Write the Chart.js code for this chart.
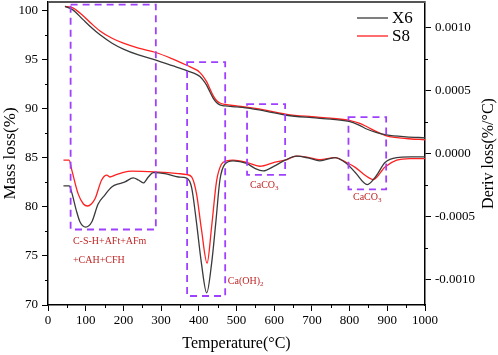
<!DOCTYPE html>
<html>
<head>
<meta charset="utf-8">
<script src="https://cdn.jsdelivr.net/npm/chart.js@4/dist/chart.umd.min.js"></script>
<style>
  html, body { margin: 0; padding: 0; background: #fff; }
  #wrap { width: 498px; height: 355px; position: relative; }
</style>
</head>
<body>
<div id="wrap"><canvas id="chart"></canvas></div>
<script>
// TG / DTG curves of samples X6 and S8

const tgTemp = [45, 66, 93, 115, 138, 170, 200, 240, 286, 330, 368, 395, 403, 410, 421, 430, 438, 447, 456, 470, 500, 536, 580, 633, 700, 750, 801, 825, 845, 870, 898, 950, 1000];
const tgX6 = [100.45, 100.1, 99.1, 98.3, 97.55, 96.7, 96.1, 95.5, 94.97, 94.4, 93.9, 93.5, 93.3, 93.0, 92.4, 91.7, 91.1, 90.65, 90.4, 90.3, 90.2, 90.05, 89.75, 89.35, 89.1, 88.95, 88.7, 88.35, 87.95, 87.6, 87.35, 87.15, 87.05];
const tgS8 = [100.45, 100.3, 99.5, 98.7, 97.95, 97.2, 96.7, 96.2, 95.75, 95.1, 94.45, 93.95, 93.7, 93.4, 92.75, 92.0, 91.35, 90.85, 90.6, 90.45, 90.3, 90.12, 89.85, 89.45, 89.2, 89.05, 88.8, 88.55, 88.2, 87.7, 87.25, 86.98, 86.85];

const dtgTempX6 = [41, 56, 63, 75, 85, 100, 116, 133, 150, 169, 190, 204, 226, 240, 253, 266, 279, 310, 346, 368, 381, 394, 407, 421, 434, 445, 456, 469, 491, 527, 550, 571, 600, 629, 659, 690, 721, 761, 792, 815, 847, 870, 894, 925, 960, 1000];
const dtgX6 = [-0.000257, -0.000257, -0.00031, -0.00045, -0.000543, -0.000583, -0.000543, -0.0004, -0.000331, -0.000265, -0.000238, -0.000225, -0.000193, -0.00021, -0.000233, -0.000186, -0.000151, -0.000159, -0.000186, -0.000195, -0.00027, -0.00055, -0.00087, -0.001104, -0.00087, -0.00055, -0.00021, -0.000085, -0.000058, -0.000079, -0.00012, -0.000138, -0.0001, -0.000053, -0.000021, -0.000035, -0.000058, -0.000032, -0.000079, -0.00015, -0.000246, -0.00018, -0.000071, -0.000032, -0.000027, -0.000027];

const dtgTempS8 = [41, 56, 63, 80, 94, 105, 115, 125, 142, 156, 164, 178, 200, 222, 284, 346, 368, 381, 394, 407, 422, 434, 447, 460, 474, 491, 527, 562, 600, 629, 659, 690, 721, 761, 792, 815, 840, 863, 894, 925, 960, 1000];
const dtgS8 = [-0.000053, -0.000053, -0.00013, -0.00032, -0.0004, -0.000416, -0.0004, -0.000357, -0.000212, -0.000172, -0.000186, -0.000172, -0.00015, -0.00014, -0.000146, -0.000159, -0.000167, -0.000186, -0.00032, -0.0006, -0.000868, -0.00058, -0.00022, -0.000085, -0.000058, -0.000053, -0.000071, -0.000101, -0.00007, -0.000053, -0.000021, -0.00003, -0.000048, -0.000032, -0.000071, -0.00011, -0.00017, -0.000206, -0.000106, -0.000053, -0.00004, -0.00004];

const seriesNames = ['X6', 'S8'];

// dashed regions, in temperature / mass loss units
const regions = [
  { t0: 60, t1: 286, m0: 77.7, m1: 100.64 },
  { t0: 369, t1: 470, m0: 70.92, m1: 94.76 },
  { t0: 528, t1: 629, m0: 83.27, m1: 90.48 },
  { t0: 797, t1: 897, m0: 81.8, m1: 89.15 }
];
const regionLabels = [
  { text: 'C-S-H+AFt+AFm', sub: '', t: 66, m: 76.45 },
  { text: '+CAH+CFH', sub: '', t: 66, m: 74.5 },
  { text: 'Ca(OH)', sub: '2', t: 477, m: 72.45 },
  { text: 'CaCO', sub: '3', t: 536, m: 82.25 },
  { text: 'CaCO', sub: '3', t: 809, m: 81.0 }
];

const serif = "'Liberation Serif', 'Times New Roman', serif";
const black = '#3a3a3a';
const red = '#ff2020';

function pts(xs, ys) {
  return xs.map((x, i) => ({ x: x, y: ys[i] }));
}

const minorTicks = {
  id: 'minorTicks',
  afterDraw(chart) {
    const ctx = chart.ctx;
    const a = chart.chartArea;
    const { x, y, y1 } = chart.scales;
    ctx.save();
    ctx.strokeStyle = '#000';
    ctx.lineWidth = 1;
    ctx.beginPath();
    for (let v = 50; v < 1000; v += 100) {
      const px = Math.round(x.getPixelForValue(v)) + 0.5;
      ctx.moveTo(px, a.bottom); ctx.lineTo(px, a.bottom + 3);
    }
    for (let v = 72.5; v < 101; v += 5) {
      const py = Math.round(y.getPixelForValue(v)) + 0.5;
      ctx.moveTo(a.left, py); ctx.lineTo(a.left - 3, py);
    }
    for (let v = -0.00075; v < 0.0012; v += 0.0005) {
      const py = Math.round(y1.getPixelForValue(v)) + 0.5;
      ctx.moveTo(a.right, py); ctx.lineTo(a.right + 3, py);
    }
    ctx.stroke();
    // top frame
    ctx.strokeStyle = '#555';
    ctx.lineWidth = 2;
    ctx.beginPath();
    ctx.moveTo(a.left, a.top); ctx.lineTo(a.right, a.top);
    ctx.stroke();
    ctx.restore();
  }
};

const annotations = {
  id: 'annotations',
  afterDatasetsDraw(chart) {
    const ctx = chart.ctx;
    const { x, y } = chart.scales;
    ctx.save();
    ctx.strokeStyle = '#a040ff';
    ctx.lineWidth = 1.8;
    ctx.setLineDash([7, 5]);
    regions.forEach(r => {
      const x0 = x.getPixelForValue(r.t0), x1 = x.getPixelForValue(r.t1);
      const y0 = y.getPixelForValue(r.m1), y1 = y.getPixelForValue(r.m0);
      ctx.strokeRect(x0, y0, x1 - x0, y1 - y0);
    });
    ctx.setLineDash([]);
    ctx.fillStyle = '#c02828';
    ctx.textBaseline = 'middle';
    ctx.textAlign = 'left';
    regionLabels.forEach(l => {
      const px = x.getPixelForValue(l.t), py = y.getPixelForValue(l.m);
      ctx.font = '10px ' + serif;
      ctx.fillText(l.text, px, py);
      if (l.sub) {
        const w = ctx.measureText(l.text).width;
        ctx.font = '7px ' + serif;
        ctx.fillText(l.sub, px + w, py + 3);
      }
    });
    ctx.restore();
  }
};

const legendAndTitle = {
  id: 'legendAndTitle',
  afterDraw(chart) {
    const ctx = chart.ctx;
    const a = chart.chartArea;
    ctx.save();
    const colors = [black, red];
    seriesNames.forEach((name, i) => {
      const ly = 18 + i * 18;
      ctx.strokeStyle = colors[i];
      ctx.lineWidth = 1.3;
      ctx.beginPath();
      ctx.moveTo(a.right - 68, ly); ctx.lineTo(a.right - 37, ly);
      ctx.stroke();
      ctx.fillStyle = '#000';
      ctx.font = '17px ' + serif;
      ctx.textBaseline = 'middle';
      ctx.textAlign = 'left';
      ctx.fillText(name, a.right - 33, ly + 1);
    });
    // right axis title, reading bottom to top
    ctx.translate(chart.width - 9, (a.top + a.bottom) / 2);
    ctx.rotate(-Math.PI / 2);
    ctx.font = '16px ' + serif;
    ctx.textAlign = 'center';
    ctx.textBaseline = 'middle';
    ctx.fillText('Deriv loss(%/°C)', 0, 0);
    ctx.restore();
  }
};

function noPadding(scale) {
  scale.paddingTop = 0; scale.paddingBottom = 0;
  scale.paddingLeft = 0; scale.paddingRight = 0;
}

const tickFont = { family: serif, size: 13 };
const axisGrid = { drawOnChartArea: false, drawTicks: true, tickLength: 6, tickColor: '#000', tickWidth: 1 };
const axisBorder = { display: true, color: '#000', width: 1.5 };

Chart.defaults.color = '#000';

const lineStyle = { pointRadius: 0, borderWidth: 1.3, cubicInterpolationMode: 'monotone', fill: false };

new Chart(document.getElementById('chart'), {
  type: 'line',
  data: {
    datasets: [
      { label: 'X6', data: pts(tgTemp, tgX6), borderColor: black, yAxisID: 'y', ...lineStyle },
      { label: 'S8', data: pts(tgTemp, tgS8), borderColor: red, yAxisID: 'y', ...lineStyle },
      { label: 'X6', data: pts(dtgTempX6, dtgX6), borderColor: black, yAxisID: 'y1', ...lineStyle },
      { label: 'S8', data: pts(dtgTempS8, dtgS8), borderColor: red, yAxisID: 'y1', ...lineStyle }
    ]
  },
  options: {
    responsive: true,
    maintainAspectRatio: false,
    animation: false,
    layout: { padding: { top: 2, left: 0, right: 0, bottom: 0 } },
    plugins: { legend: { display: false }, tooltip: { enabled: false } },
    scales: {
      x: {
        type: 'linear', min: 0, max: 1000,
        ticks: { stepSize: 100, font: tickFont, padding: 2, maxRotation: 0, callback: v => String(v) },
        grid: axisGrid, border: axisBorder,
        title: { display: true, text: 'Temperature(°C)', font: { family: serif, size: 16 }, padding: { top: 0, bottom: 2 } },
        afterFit(s) { s.height = 50; noPadding(s); }
      },
      y: {
        position: 'left', min: 70, max: 100.9,
        ticks: { stepSize: 5, includeBounds: false, font: tickFont, padding: 4 },
        grid: axisGrid, border: axisBorder,
        title: { display: true, text: 'Mass loss(%)', font: { family: serif, size: 17 }, padding: { top: 0, bottom: 0 } },
        afterFit(s) { s.width = 48; noPadding(s); }
      },
      y1: {
        position: 'right', min: -0.0012, max: 0.0012,
        ticks: {
          stepSize: 0.0005, includeBounds: false, font: tickFont, padding: 4,
          callback: v => Math.abs(v) < 1e-9 ? '0.0000' : v.toFixed(4)
        },
        grid: axisGrid, border: axisBorder,
        afterFit(s) { s.width = 73; noPadding(s); }
      }
    }
  },
  plugins: [minorTicks, annotations, legendAndTitle]
});
</script>
</body>
</html>
